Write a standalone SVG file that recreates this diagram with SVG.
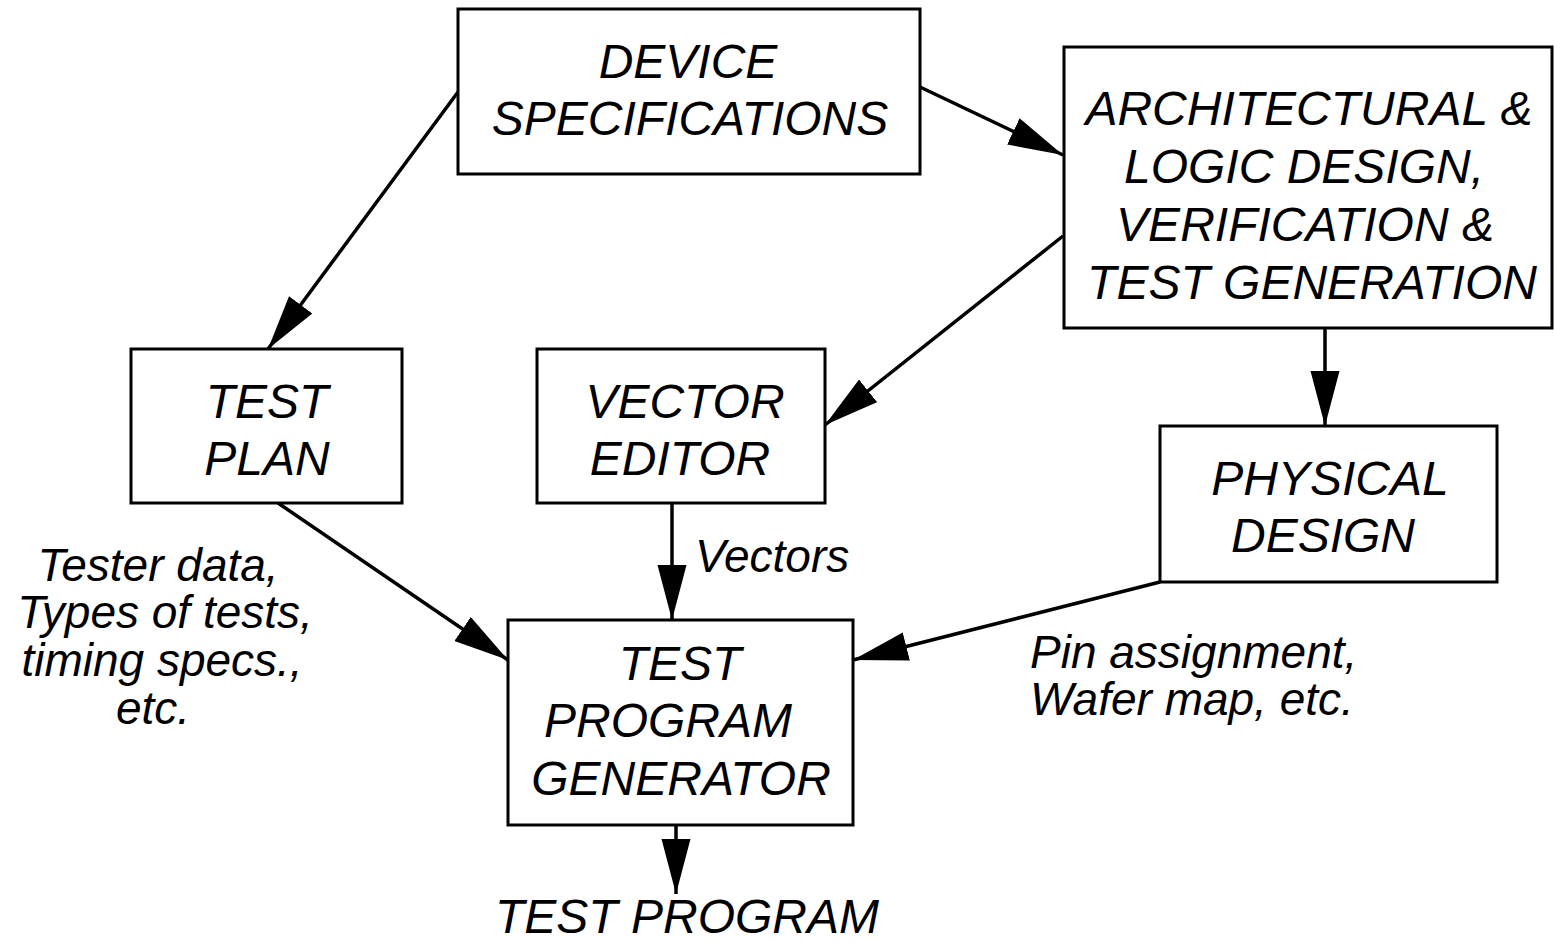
<svg xmlns="http://www.w3.org/2000/svg" width="1554" height="943" viewBox="0 0 1554 943">
<style>
.box{fill:#fff;stroke:#000;stroke-width:3}
.t{font-family:"Liberation Sans",Arial,sans-serif;font-style:italic;font-size:48px;fill:#000;text-anchor:middle}
.l{font-family:"Liberation Sans",Arial,sans-serif;font-style:italic;font-size:46px;fill:#000}
.c{fill:none;stroke:#000;stroke-width:3.5}
</style>
<defs>
<marker id="ah" markerUnits="userSpaceOnUse" markerWidth="56" markerHeight="30" refX="55" refY="14.5" orient="auto">
<path d="M0,0 L55,14.5 L0,29 Z" fill="#000"/>
</marker>
</defs>
<rect width="1554" height="943" fill="#fff"/>
<g id="connectors">
<line class="c" x1="458" y1="92" x2="268" y2="349" marker-end="url(#ah)"/>
<line class="c" x1="920" y1="87" x2="1063" y2="155" marker-end="url(#ah)"/>
<line class="c" x1="1063" y1="236" x2="825" y2="425" marker-end="url(#ah)"/>
<line class="c" x1="1325" y1="328" x2="1325" y2="426" marker-end="url(#ah)"/>
<line class="c" x1="278" y1="503" x2="508" y2="660" marker-end="url(#ah)"/>
<line class="c" x1="672" y1="503" x2="672" y2="620" marker-end="url(#ah)"/>
<line class="c" x1="1160" y1="582" x2="853" y2="660" marker-end="url(#ah)"/>
<line class="c" x1="676" y1="825" x2="676" y2="894" marker-end="url(#ah)"/>
</g>
<g id="device-specs">
<rect class="box" x="458" y="9" width="462" height="165"/>
<text class="t" x="688" y="78">DEVICE</text>
<text class="t" x="690" y="135">SPECIFICATIONS</text>
</g>
<g id="arch-design">
<rect class="box" x="1064" y="47" width="488" height="281"/>
<text class="t" x="1309" y="125">ARCHITECTURAL &amp;</text>
<text class="t" x="1304" y="183">LOGIC DESIGN,</text>
<text class="t" x="1305" y="241">VERIFICATION &amp;</text>
<text class="t" x="1312" y="299">TEST GENERATION</text>
</g>
<g id="test-plan">
<rect class="box" x="131" y="349" width="271" height="154"/>
<text class="t" x="267" y="418">TEST</text>
<text class="t" x="267" y="475">PLAN</text>
</g>
<g id="vector-editor">
<rect class="box" x="537" y="349" width="288" height="154"/>
<text class="t" x="685" y="418">VECTOR</text>
<text class="t" x="680" y="475">EDITOR</text>
</g>
<g id="physical-design">
<rect class="box" x="1160" y="426" width="337" height="156"/>
<text class="t" x="1330" y="495">PHYSICAL</text>
<text class="t" x="1323" y="552">DESIGN</text>
</g>
<g id="tpg">
<rect class="box" x="508" y="620" width="345" height="205"/>
<text class="t" x="680" y="680">TEST</text>
<text class="t" x="668" y="737">PROGRAM</text>
<text class="t" x="681" y="795">GENERATOR</text>
</g>
<g id="test-program">
<text class="t" x="687" y="933">TEST PROGRAM</text>
</g>
<g id="labels">
<text class="l" x="695" y="572">Vectors</text>
<text class="l" text-anchor="middle" x="158" y="581">Tester data,</text>
<text class="l" text-anchor="middle" x="165" y="628">Types of tests,</text>
<text class="l" text-anchor="middle" x="162" y="676">timing specs.,</text>
<text class="l" text-anchor="middle" x="153" y="724">etc.</text>
<text class="l" x="1030" y="668">Pin assignment,</text>
<text class="l" x="1030" y="715">Wafer map, etc.</text>
</g>
</svg>
